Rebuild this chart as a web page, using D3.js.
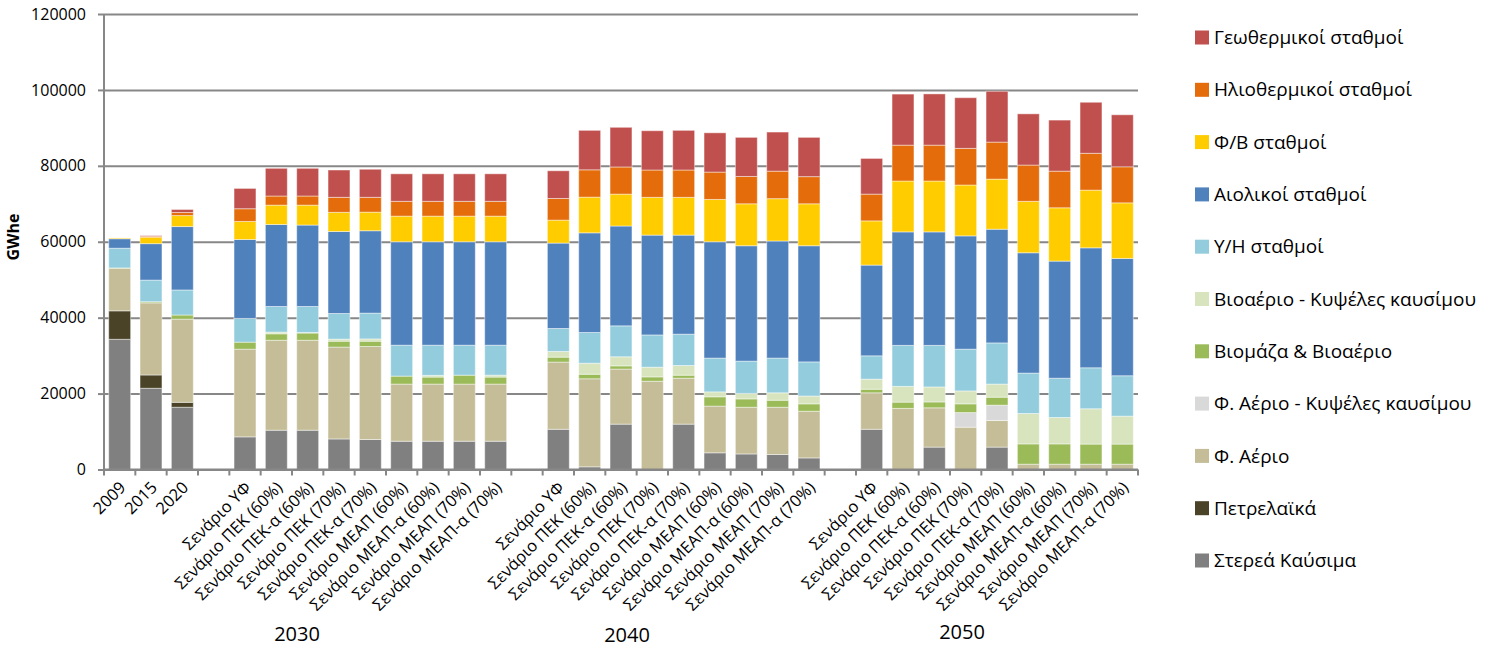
<!DOCTYPE html>
<html><head><meta charset="utf-8">
<script src="https://cdn.jsdelivr.net/npm/d3@7"></script>
<style>
html,body{margin:0;padding:0;background:#fff;}
svg{display:block;font-family:"Open Sans","Noto Sans",sans-serif;}
</style></head>
<body><svg id="chart" width="1501" height="649"></svg>
<script>
// ---- DATA ----
const scen = ["Σενάριο ΥΦ","Σενάριο ΠΕΚ (60%)","Σενάριο ΠΕΚ-α (60%)","Σενάριο ΠΕΚ (70%)","Σενάριο ΠΕΚ-α (70%)","Σενάριο ΜΕΑΠ (60%)","Σενάριο ΜΕΑΠ-α (60%)","Σενάριο ΜΕΑΠ (70%)","Σενάριο ΜΕΑΠ-α (70%)"];
const categories = ["2009","2015","2020",""].concat(scen, [""], scen, [""], scen);
const groupLabels = ["2030","2040","2050"];
const yTicks = [0,20000,40000,60000,80000,100000,120000];

const seriesNames = ["Στερεά Καύσιμα","Πετρελαϊκά","Φ. Αέριο","Φ. Αέριο - Κυψέλες καυσίμου","Βιομάζα & Βιοαέριο","Βιοαέριο - Κυψέλες καυσίμου","Υ/Η σταθμοί","Αιολικοί σταθμοί","Φ/Β σταθμοί","Ηλιοθερμικοί σταθμοί","Γεωθερμικοί σταθμοί"];
const seriesColors = ["#808080","#4a4328","#c4bd97","#d9d9d9","#9bbb59","#d7e4bd","#93cddd","#4f81bd","#ffcc00","#e46c0a","#c0504d"];

//                 2009  2015  2020  -   2030 x9 | - | 2040 x9 | - | 2050 x9
const solid  = [34300,21400,16400,0, 8600,10350,10350,8050,7900,7450,7450,7450,7450, 0, 10600,700,11950,0,11950,4400,4100,3950,3050, 0, 10600,0,5900,0,5900,0,0,0,0];
const oil    = [7500,3500,1300,0, 0,0,0,0,0,0,0,0,0, 0, 0,0,0,0,0,0,0,0,0, 0, 0,0,0,0,0,0,0,0,0];
const gas    = [11200,19000,21900,0, 23100,23700,23700,24200,24500,15050,15050,15050,15050, 0, 17700,23200,14500,23250,12100,12300,12300,12450,12300, 0, 9600,16100,10350,11150,7000,1400,1400,1400,1400];
const gasFC  = [0,0,0,0, 0,0,0,0,0,0,0,0,0, 0, 0,0,0,0,0,0,0,0,0, 0, 0,0,0,3850,4050,0,0,0,0];
const bio    = [100,300,1100,0, 1850,1700,1900,1550,1400,2100,1850,2350,1850, 0, 1300,1200,850,1150,800,2450,2200,1850,1950, 0, 950,1650,1550,2300,2100,5350,5350,5300,5300];
const bioFC  = [0,0,0,0, 0,450,150,550,600,0,450,0,500, 0, 1500,2900,2400,2550,2550,1300,1450,1950,2050, 0, 2650,4150,3950,3400,3450,8000,6950,9300,7350];
const hydro  = [5200,5700,6600,0, 6250,6750,6850,6750,6800,8150,7950,7900,7900, 0, 6050,8100,8150,8500,8250,8900,8500,9150,9000, 0, 6150,10800,10950,11000,10850,10650,10350,10800,10650];
const wind   = [2500,9600,16700,0, 20800,21600,21450,21600,21700,27250,27250,27250,27250, 0, 22500,26250,26300,26300,26100,30650,30400,30850,30600, 0, 23900,29900,29900,29850,29950,31700,30850,31600,30900];
const pv     = [200,1700,2900,0, 4750,5100,5250,5050,4900,6750,6750,6750,6750, 0, 6050,9400,8400,9950,9950,11150,11050,11150,11050, 0, 11650,13400,13400,13400,13200,13550,14050,15200,14650];
const csp    = [0,250,800,0, 3350,2400,2400,3950,3900,3900,3900,3900,3900, 0, 5700,7200,7150,7200,7200,7200,7200,7250,7150, 0, 7050,9450,9450,9650,9750,9550,9650,9700,9500];
const geo    = [0,150,800,0, 5350,7300,7300,7200,7400,7250,7250,7250,7250, 0, 7300,10400,10450,10350,10450,10350,10300,10300,10350, 0, 9400,13450,13500,13350,13400,13500,13450,13450,13700];

const seriesValues = [solid, oil, gas, gasFC, bio, bioFC, hydro, wind, pv, csp, geo];

// ---- LAYOUT ----
const svg = d3.select("#chart");
const margin = {left:104, top:14};
const W = 1138 - 104, H = 469.5 - 14;
const g = svg.append("g").attr("transform", `translate(${margin.left},${margin.top})`);

const keys = categories.map((c,i)=>"c"+i);
const x = d3.scaleBand().domain(keys).range([0, W]).paddingInner(0.3).paddingOuter(0.15);
const y = d3.scaleLinear().domain([0,120000]).range([H,0]);

const rows = keys.map((k,i)=>{ const r={key:k}; seriesNames.forEach((s,j)=>r[s]=seriesValues[j][i]); return r; });
const stacked = d3.stack().keys(seriesNames)(rows);

// gridlines
g.append("g").call(d3.axisLeft(y).tickValues(yTicks).tickSize(-W).tickFormat(""))
  .call(a=>a.select(".domain").remove())
  .call(a=>a.selectAll("line").attr("stroke","#878787").attr("stroke-width",2));

// bars
g.append("g").selectAll("g").data(stacked).join("g")
  .attr("fill",(d,i)=>seriesColors[i])
  .selectAll("rect").data(d=>d.filter(p=>p[1]-p[0]>0)).join("rect")
  .attr("x",d=>x(d.data.key)).attr("width",x.bandwidth())
  .attr("y",d=>y(d[1])).attr("height",d=>y(d[0])-y(d[1]))
  .attr("stroke","rgba(255,255,255,0.45)").attr("stroke-width",1);

// y axis
const ya = g.append("g").call(d3.axisLeft(y).tickValues(yTicks).tickSize(6).tickPadding(12).tickFormat(d3.format("d")));
ya.select(".domain").attr("stroke","#878787").attr("stroke-width",2).attr("d",`M0,${H}V0`);
ya.selectAll("line").attr("stroke","#878787").attr("stroke-width",2);
ya.selectAll("text").attr("font-size","16px").attr("fill","#000").attr("font-family","Open Sans");

// x axis line + ticks at band boundaries
g.append("line").attr("x1",0).attr("x2",W).attr("y1",H).attr("y2",H).attr("stroke","#878787").attr("stroke-width",2);
const step = x.step();
g.append("g").selectAll("line").data(d3.range(keys.length+1)).join("line")
  .attr("x1",i=>i*step).attr("x2",i=>i*step).attr("y1",H).attr("y2",H+6)
  .attr("stroke","#878787").attr("stroke-width",2);

// x labels
g.append("g").selectAll("text").data(categories.map((c,i)=>({c,k:keys[i]})).filter(d=>d.c)).join("text")
  .attr("transform",d=>`translate(${x(d.k)+x.bandwidth()/2+3},${H+15}) rotate(-45)`)
  .attr("text-anchor","end").attr("dy","0.35em").attr("font-size","16.5px").attr("fill","#000")
  .text(d=>d.c);

// group labels
const groupPos = [[297,641],[627,642],[962,639]];
svg.append("g").selectAll("text").data(groupLabels).join("text")
  .attr("x",(d,i)=>groupPos[i][0]).attr("y",(d,i)=>groupPos[i][1])
  .attr("text-anchor","middle").attr("font-size","20px").attr("fill","#000").text(d=>d);

// y title
svg.append("text").attr("transform","translate(19,237) rotate(-90)").attr("text-anchor","middle")
  .attr("font-size","16px").attr("font-weight","bold").attr("fill","#000").text("GWhe");

// legend (top = last series)
const leg = svg.append("g");
const legItems = seriesNames.map((s,i)=>({s,c:seriesColors[i]})).reverse();
const li = leg.selectAll("g").data(legItems).join("g")
  .attr("transform",(d,i)=>`translate(1195,${37.5+i*52.3})`);
li.append("rect").attr("x",0).attr("y",-7).attr("width",14).attr("height",14).attr("fill",d=>d.c);
li.append("text").attr("x",19).attr("dy","0.35em").attr("font-size","19px").attr("fill","#000").text(d=>d.s);
</script></body></html>
